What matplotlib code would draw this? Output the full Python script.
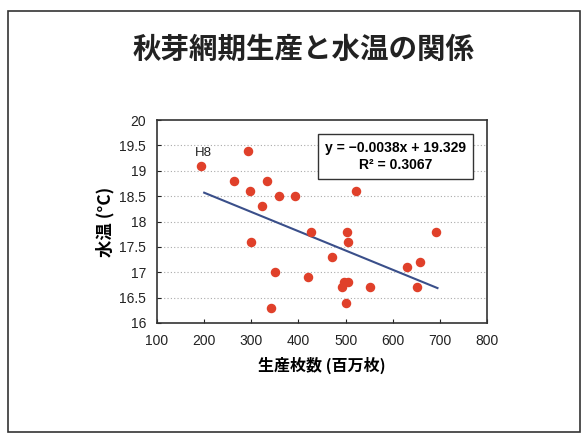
import matplotlib.pyplot as plt
from matplotlib.patches import Rectangle

plt.rcParams['font.family'] = ['Noto Sans CJK JP', 'DejaVu Sans']

# 生産枚数(百万枚) と 水温(℃)
production = [193, 292, 263, 333, 297, 358, 393, 322, 522, 300, 427, 502, 506,
              692, 472, 350, 420, 630, 657, 493, 497, 506, 552, 652, 501, 341]
water_temp = [19.1, 19.4, 18.8, 18.8, 18.6, 18.5, 18.5, 18.3, 18.6, 17.6, 17.8, 17.8, 17.6,
              17.8, 17.3, 17.0, 16.9, 17.1, 17.2, 16.7, 16.8, 16.8, 16.7, 16.7, 16.4, 16.3]

slope = -0.0038
intercept = 19.329
r2 = 0.3067
trend_x = [200, 695]

x_ticks = [100, 200, 300, 400, 500, 600, 700, 800]
y_ticks = [16, 16.5, 17, 17.5, 18, 18.5, 19, 19.5, 20]

num_font = ['Liberation Sans', 'Noto Sans CJK JP']

fig = plt.figure(figsize=(5.86, 4.40), dpi=100)
fig.patches.append(Rectangle((0.014, 0.018), 0.975, 0.958, transform=fig.transFigure,
                             fill=False, edgecolor='#333333', linewidth=1.2))

fig.text(0.518, 0.886, '秋芽網期生産と水温の関係', ha='center', va='center',
         fontsize=20.5, fontweight='bold', color='#222222')

ax = fig.add_axes([0.268, 0.266, 0.563, 0.461])
for yv in y_ticks[1:-1]:
    ax.axhline(yv, color='#aaaaaa', linestyle=(0, (1, 2)), linewidth=0.8, zorder=0)

ax.scatter(production, water_temp, s=34, color='#e0402a', zorder=3)
trend_y = [slope * x + intercept for x in trend_x]
ax.plot(trend_x, trend_y, color='#3a4f8a', linewidth=1.5, zorder=2)

ax.annotate('H8', (production[0], water_temp[0]), xytext=(-4, 7), textcoords='offset points',
            fontsize=9.5, color='#222222', family=num_font)

ax.text(0.723, 0.82, f'y = −{abs(slope):.4f}x + {intercept}\nR² = {r2}', transform=ax.transAxes,
        ha='center', va='center', fontsize=10, fontweight='bold', linespacing=1.25, zorder=4,
        family=num_font,
        bbox=dict(boxstyle='square,pad=0.5', facecolor='white', edgecolor='#333333', linewidth=1))

ax.set_xlim(100, 800)
ax.set_ylim(16, 20)
ax.set_xticks(x_ticks)
ax.set_yticks(y_ticks)
ax.set_yticklabels([f'{v:g}' for v in y_ticks])
ax.tick_params(direction='in', length=3, labelsize=10, colors='#222222', pad=8)
for lbl in ax.get_xticklabels() + ax.get_yticklabels():
    lbl.set_family(num_font)
for s in ax.spines.values():
    s.set_linewidth(1.2)
    s.set_color('#333333')

ax.set_xlabel('生産枚数 (百万枚)', fontsize=11.5, fontweight='bold', labelpad=6)
ax.set_ylabel('水温 (°C)', fontsize=12.5, fontweight='bold', labelpad=3)

fig.savefig('out.png', dpi=100)
